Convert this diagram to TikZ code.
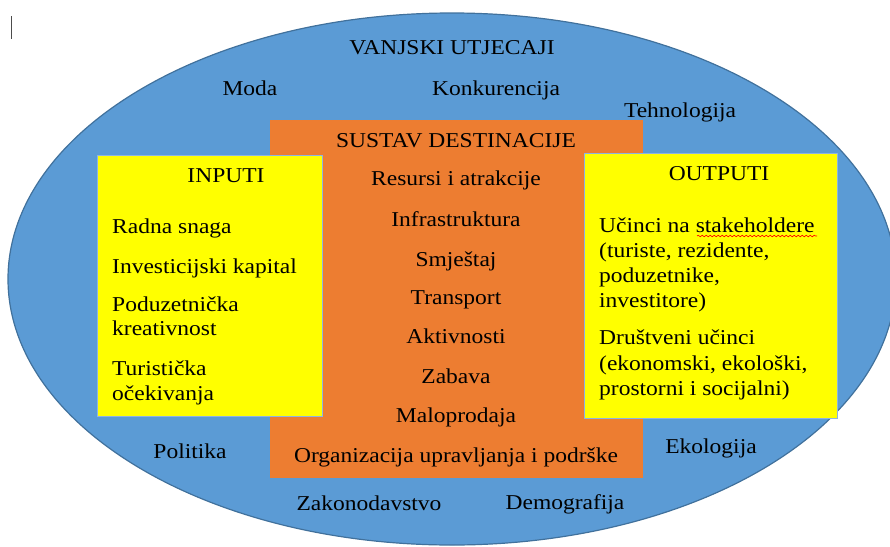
\documentclass[tikz,border=0pt]{standalone}
\usepackage{fontspec}
\setmainfont{Liberation Serif}
\usetikzlibrary{decorations.pathmorphing}
\definecolor{ellblue}{HTML}{5B9BD5}
\definecolor{ellline}{HTML}{41719C}
\definecolor{sysorange}{HTML}{ED7D31}
\definecolor{boxyellow}{HTML}{FFFF00}
\definecolor{boxline}{HTML}{8DB4E2}
\tikzset{
  lbl/.style={inner sep=0pt, anchor=base, font=\rmfamily\fontsize{23.5pt}{25pt}\selectfont, yscale=0.9, transform shape},
  item/.style={inner sep=0pt, anchor=base west, font=\rmfamily\fontsize{23.5pt}{25pt}\selectfont, yscale=0.9, transform shape},
  ybox/.style={fill=boxyellow, draw=boxline, line width=1pt},
}
\begin{document}
\begin{tikzpicture}[x=1pt,y=-1pt]
\useasboundingbox (0,0) rectangle (890,546);
\begin{scope}
\clip (0,0) rectangle (890,546);
\fill[ellblue, draw=ellline, line width=1.2pt] (452,279) ellipse [x radius=444, y radius=266];
\end{scope}
% cursor mark
\draw[black!70, line width=1pt] (11,16) -- (11,39);
% outer labels
\node[lbl] (vanj) at (452,54) {VANJSKI UTJECAJI};
\node[lbl] (moda) at (250,95) {Moda};
\node[lbl] (konk) at (496,95) {Konkurencija};
\node[lbl] (tehn) at (680,117) {Tehnologija};
\node[lbl] (poli) at (190,458) {Politika};
\node[lbl] (ekol) at (711,453) {Ekologija};
\node[lbl] (zako) at (369,510) {Zakonodavstvo};
\node[lbl] (demo) at (565,509) {Demografija};
% system box
\fill[sysorange] (270,120) rectangle (643,478);
\node[lbl] (sust) at (456,147) {SUSTAV DESTINACIJE};
\node[lbl] (c1) at (456,185) {Resursi i atrakcije};
\node[lbl] (c2) at (456,226) {Infrastruktura};
\node[lbl] (c3) at (456,266) {Smještaj};
\node[lbl] (c4) at (456,304) {Transport};
\node[lbl] (c5) at (456,343) {Aktivnosti};
\node[lbl] (c6) at (456,383) {Zabava};
\node[lbl] (c7) at (456,422) {Maloprodaja};
\node[lbl] (c8) at (456,462) {Organizacija upravljanja i podrške};
% inputs box
\draw[ybox] (97,155) rectangle (322,416);
\node[lbl] (inp) at (226,182) {INPUTI};
\node[item] (i1) at (112,233) {Radna snaga};
\node[item] (i2) at (112,273) {Investicijski kapital};
\node[item] (i3) at (112,311) {Poduzetnička};
\node[item] (i3b) at (112,335) {kreativnost};
\node[item] (i4) at (112,375) {Turistička};
\node[item] (i4b) at (112,400) {očekivanja};
% outputs box
\draw[ybox] (584,153) rectangle (837,418);
\node[lbl] (out) at (719,180) {OUTPUTI};
\node[item] (o1) at (599,232) {Učinci na stakeholdere};
\node[item] (o2) at (599,257) {(turiste, rezidente,};
\node[item] (o3) at (599,282) {poduzetnike,};
\node[item] (o4) at (599,307) {investitore)};
\node[item] (o5) at (599,344) {Društveni učinci};
\node[item] (o6) at (599,370) {(ekonomski, ekološki,};
\node[item] (o7) at (599,395) {prostorni i socijalni)};
% spell-check underline
\draw[red, line width=0.6pt, decorate, decoration={snake, amplitude=0.8pt, segment length=4pt}] (697,236) -- (817,236);
\end{tikzpicture}
\end{document}
